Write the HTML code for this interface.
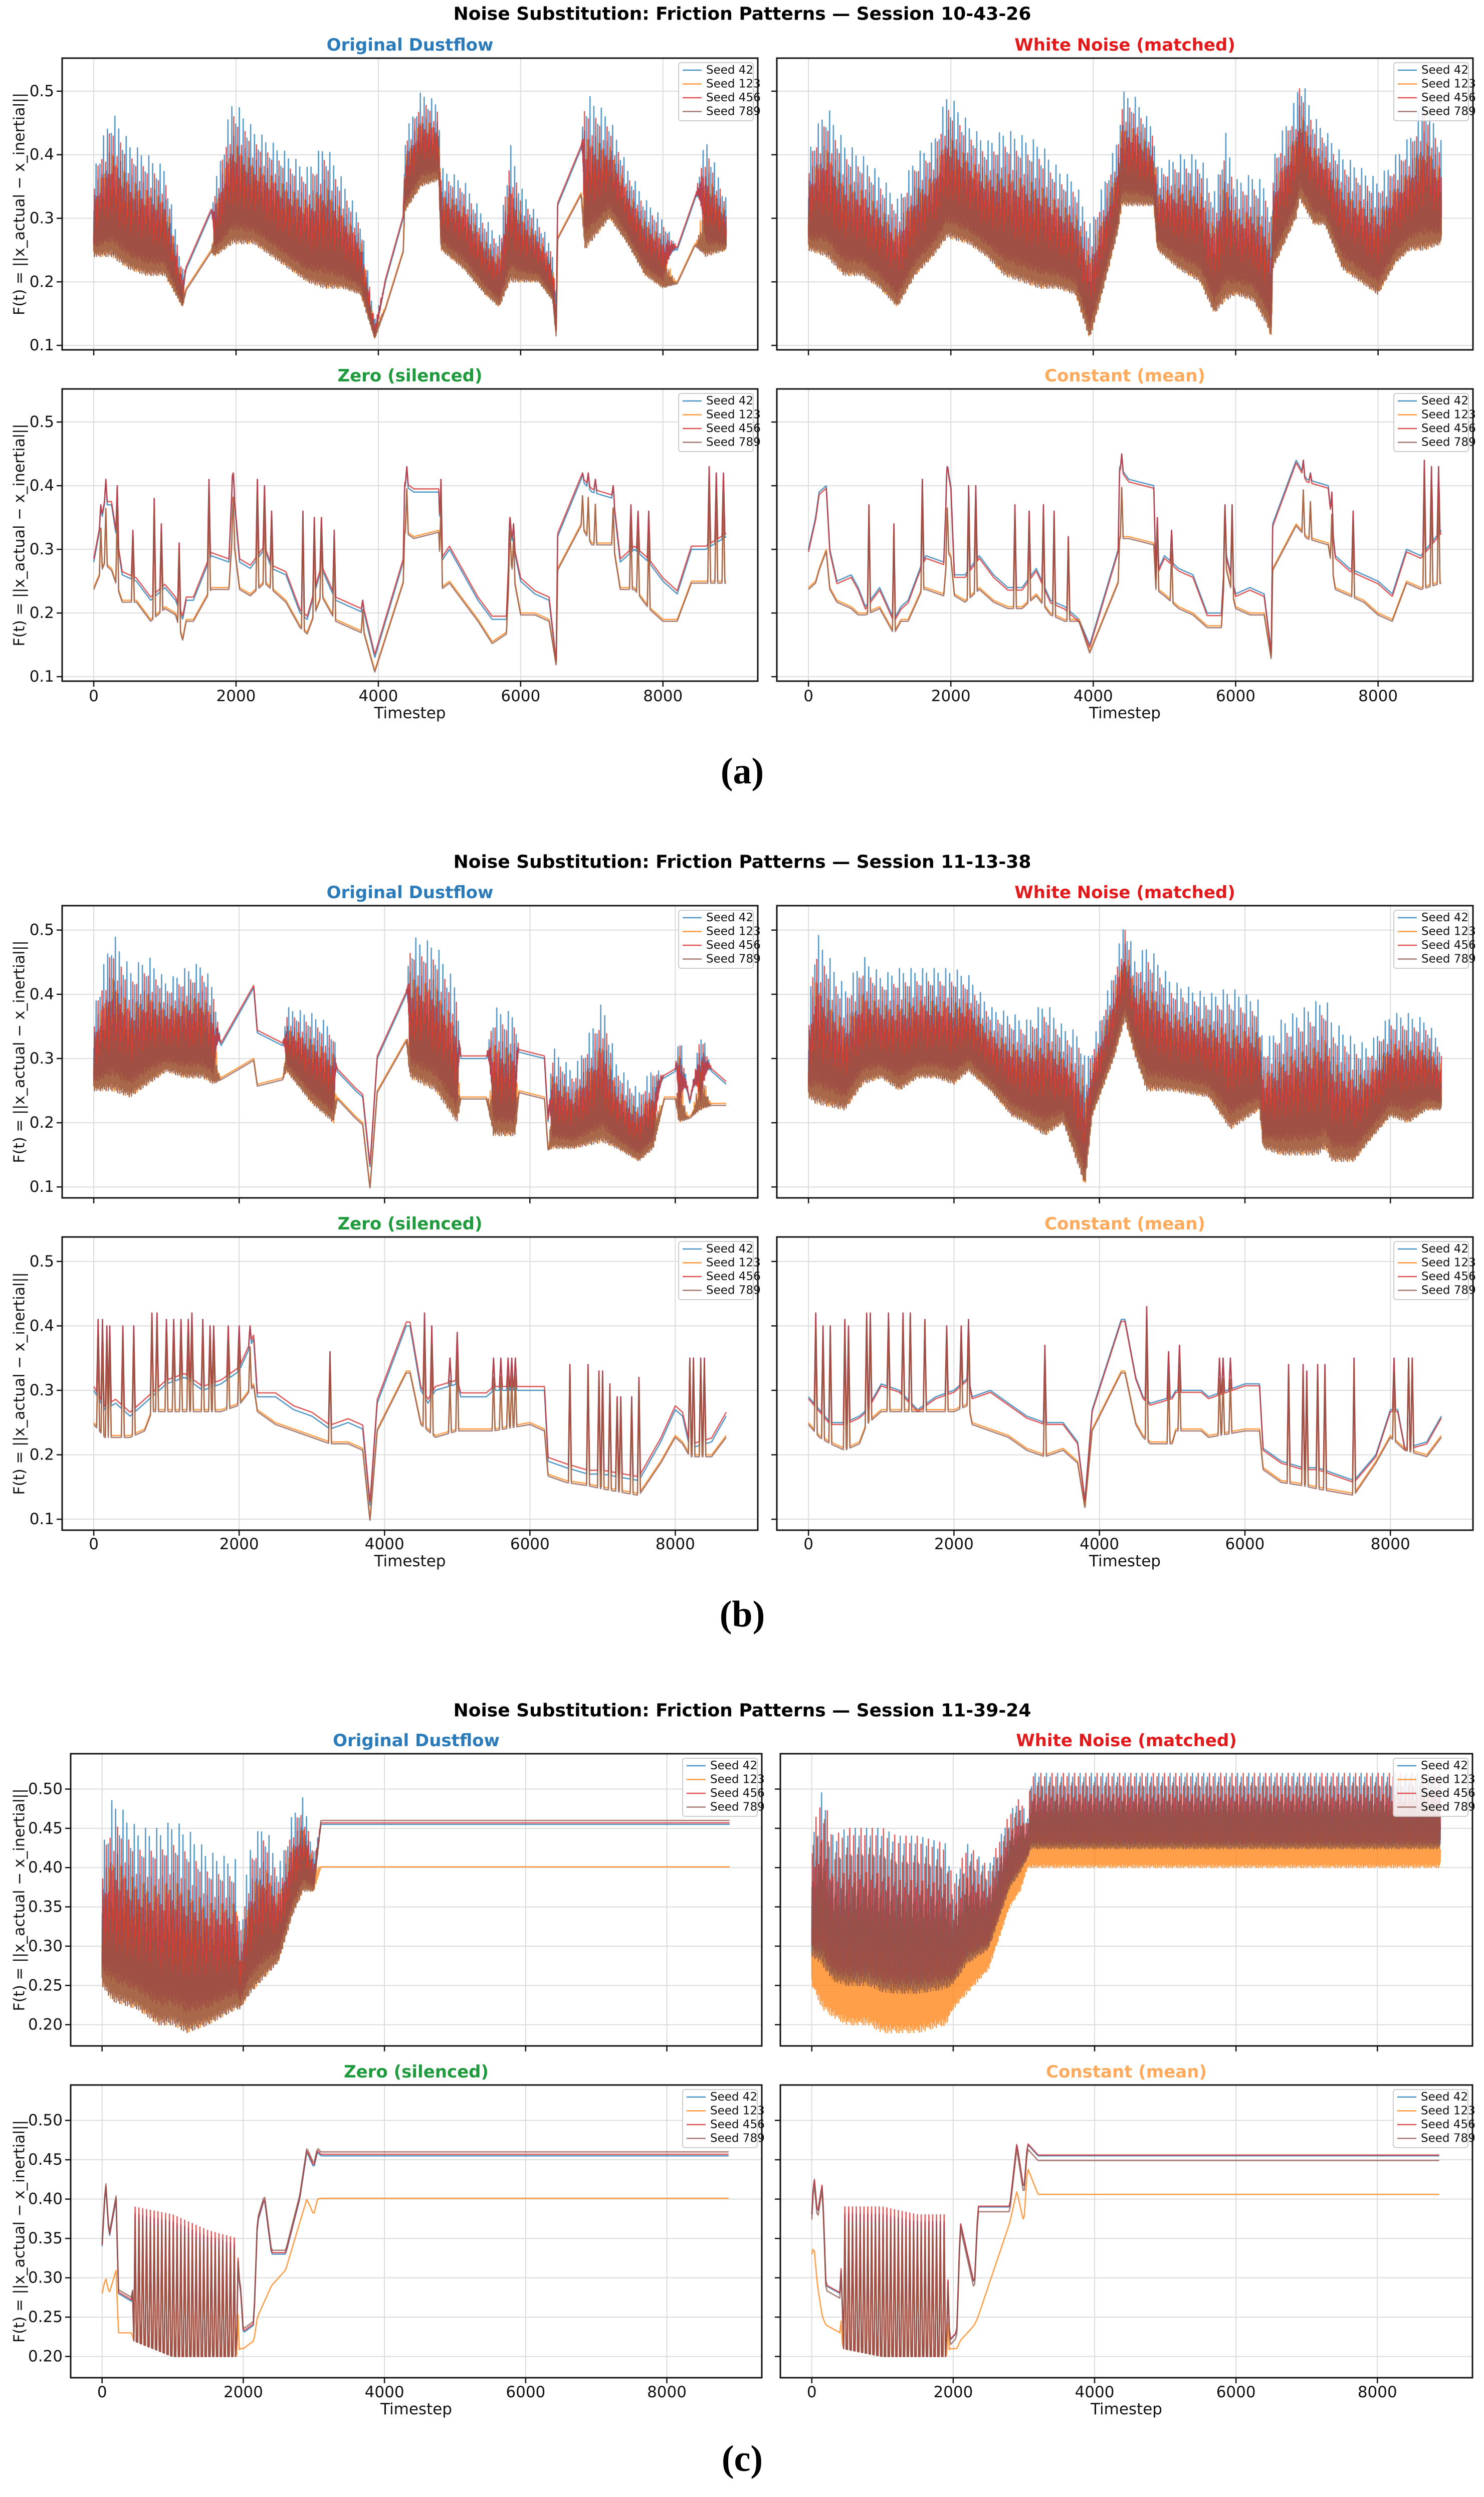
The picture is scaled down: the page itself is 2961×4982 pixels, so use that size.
<!DOCTYPE html>
<html><head><meta charset="utf-8"><title>Noise Substitution: Friction Patterns</title>
<style>
html,body{margin:0;padding:0;background:#fff;}
svg{display:block;font-family:"DejaVu Sans","Liberation Sans",sans-serif;}
</style></head>
<body>
<svg id="fig" xmlns="http://www.w3.org/2000/svg" width="2961" height="4982" viewBox="0 0 2961 4982">
<rect x="0" y="0" width="2961" height="4982" fill="#fff"/>
</svg>
<script>
// ---------- Shared data ----------
const seedNames = ['Seed 42','Seed 123','Seed 456','Seed 789'];
const seedColors = ['#1f77b4','#ff7f0e','#d62728','#8c564b'];
const xTickVals = [0,2000,4000,6000,8000];
const yTicksAB = [0.1,0.2,0.3,0.4,0.5];
const yTicksC = [0.20,0.25,0.30,0.35,0.40,0.45,0.50];
const sessionTitles = ['Noise Substitution: Friction Patterns \u2014 Session 10-43-26','Noise Substitution: Friction Patterns \u2014 Session 11-13-38','Noise Substitution: Friction Patterns \u2014 Session 11-39-24'];

// ---------- Session (a) ----------
const tOrigA = [0,250,500,750,1000,1250,1300,1650,1700,1950,2250,2500,2750,3000,3250,3500,3750,3950,4100,4350,4370,4600,4850,4880,5200,5500,5700,5850,6000,6250,6450,6500,6520,6850,6900,7250,7500,7750,8000,8200,8450,8600,8890];
const hiOrigA = [.38,.47,.42,.40,.38,.22,.22,.31,.35,.49,.44,.42,.40,.38,.42,.36,.30,.14,.20,.30,.43,.50,.48,.38,.36,.30,.27,.42,.35,.30,.25,.18,.32,.41,.50,.46,.38,.33,.30,.25,.33,.43,.33];
const loOrigA = [.24,.24,.22,.21,.21,.16,.19,.25,.24,.26,.26,.24,.22,.20,.19,.19,.18,.11,.16,.25,.31,.35,.36,.25,.22,.18,.16,.20,.20,.20,.17,.11,.27,.34,.25,.30,.26,.21,.19,.20,.26,.24,.25];
const nzOrigA = [1,1,1,1,1,1,0,0,1,1,1,1,1,1,1,1,1,1,0,0,1,1,1,1,1,1,1,1,1,1,1,1,0,0,1,1,1,1,1,0,0,1,1];

const tWhiteA = [0,250,500,750,1000,1250,1500,1750,1950,2250,2500,2750,3000,3250,3500,3750,3950,4100,4350,4400,4600,4850,4900,5200,5500,5700,5850,6000,6250,6450,6500,6520,6850,6900,7100,7250,7500,7750,8000,8250,8450,8650,8890];
const hiWhiteA = [.41,.48,.42,.40,.37,.33,.40,.42,.50,.45,.42,.44,.43,.42,.38,.36,.29,.34,.43,.50,.49,.44,.38,.40,.40,.34,.44,.36,.37,.35,.30,.40,.49,.53,.46,.44,.40,.38,.36,.40,.43,.50,.42];
const loWhiteA = [.25,.24,.21,.21,.19,.16,.21,.24,.27,.26,.24,.21,.20,.19,.19,.18,.11,.17,.28,.32,.32,.32,.25,.22,.20,.15,.17,.18,.17,.13,.11,.22,.30,.33,.29,.29,.22,.20,.18,.23,.25,.25,.26];

const tZeroA = [0,150,250,400,600,800,1000,1150,1250,1300,1400,1650,1900,1950,2050,2200,2400,2500,2700,2900,3000,3200,3400,3600,3800,3950,4350,4370,4500,4850,4880,5000,5200,5400,5600,5800,5850,6000,6200,6400,6500,6520,6850,7000,7300,7400,7600,7800,8000,8200,8400,8600,8890];
const upZeroA = [.28,.37,.37,.26,.25,.22,.24,.22,.19,.22,.22,.29,.28,.41,.28,.27,.30,.27,.26,.20,.19,.27,.22,.21,.20,.13,.28,.40,.39,.39,.28,.30,.26,.22,.19,.19,.33,.25,.23,.22,.12,.32,.41,.39,.38,.28,.30,.28,.25,.23,.30,.30,.32];
const dnZeroA = [.24,.28,.27,.22,.22,.19,.21,.20,.16,.19,.19,.24,.24,.33,.24,.23,.25,.24,.22,.18,.17,.23,.19,.18,.17,.11,.25,.33,.32,.33,.24,.25,.22,.19,.155,.17,.29,.20,.20,.19,.12,.27,.34,.31,.31,.24,.24,.21,.19,.19,.25,.25,.25];
const spikeTZeroA = [100,170,330,550,850,950,1200,1620,1960,2300,2400,2500,2940,3100,3200,3380,3780,4400,4880,5850,5900,6870,6950,7050,7300,7550,7650,7800,8650,8750,8850];
const spikeVZeroA = [.37,.41,.40,.33,.38,.34,.31,.41,.42,.41,.40,.36,.36,.35,.35,.33,.22,.43,.41,.35,.34,.42,.42,.41,.40,.37,.36,.36,.43,.42,.42];

const tConstA = [0,100,150,250,300,400,600,700,800,1000,1200,1300,1400,1600,1650,1900,1950,2000,2050,2200,2400,2600,2800,3000,3200,3400,3600,3800,3950,4350,4370,4500,4850,4880,5000,5200,5400,5600,5800,5850,6000,6200,6400,6500,6520,6850,7000,7300,7400,7600,7800,8000,8200,8400,8600,8890];
const upConstA = [.30,.35,.39,.40,.30,.25,.26,.24,.21,.24,.19,.21,.22,.28,.29,.28,.43,.40,.26,.26,.29,.26,.24,.24,.27,.22,.21,.19,.15,.30,.43,.41,.40,.26,.29,.27,.26,.20,.20,.30,.23,.24,.23,.14,.34,.44,.41,.40,.29,.27,.26,.25,.23,.30,.29,.33];
const dnConstA = [.24,.25,.27,.30,.24,.22,.21,.20,.20,.21,.17,.19,.19,.24,.24,.23,.30,.29,.23,.22,.24,.22,.21,.21,.23,.20,.19,.19,.14,.25,.32,.32,.31,.24,.23,.21,.20,.18,.18,.28,.21,.20,.20,.13,.27,.34,.32,.31,.24,.23,.22,.20,.19,.25,.24,.25];
const spikeTConstA = [850,1200,1600,1950,2250,2350,2900,3100,3300,3450,3650,4400,4900,5100,5850,5950,6950,7050,7350,7650,8650,8750,8850];
const spikeVConstA = [.37,.34,.41,.43,.40,.40,.37,.36,.37,.36,.32,.45,.35,.33,.37,.37,.44,.42,.39,.36,.44,.43,.43];

// ---------- Session (b) ----------
const tOrigB = [0,250,500,750,1000,1250,1500,1650,1750,2200,2250,2600,2650,3000,3300,3350,3600,3700,3800,3900,4300,4350,4700,5000,5050,5400,5500,5800,5850,6200,6250,6300,6600,7000,7200,7500,7700,7850,8000,8050,8200,8350,8500,8700];
const hiOrigB = [.38,.50,.44,.46,.42,.44,.45,.41,.32,.41,.34,.32,.38,.37,.35,.28,.25,.24,.13,.30,.40,.49,.48,.41,.30,.30,.38,.37,.31,.30,.20,.32,.28,.39,.29,.25,.29,.27,.28,.35,.23,.35,.28,.26];
const loOrigB = [.25,.25,.24,.26,.28,.27,.27,.26,.27,.30,.26,.27,.28,.23,.20,.24,.21,.20,.10,.25,.33,.27,.25,.20,.24,.24,.18,.18,.25,.24,.16,.16,.16,.17,.16,.14,.16,.24,.24,.20,.21,.22,.23,.23];
const nzOrigB = [1,1,1,1,1,1,1,1,0,0,0,0,1,1,1,0,0,0,0,0,0,1,1,1,0,0,1,1,0,0,0,1,1,1,1,1,1,0,0,1,0,1,0,0];

const tWhiteB = [0,100,500,750,1000,1250,1500,1750,2000,2200,2500,2800,3000,3250,3500,3750,3800,3900,4200,4350,4500,4650,5000,5500,5800,6200,6250,6500,7000,7100,7200,7500,7700,8000,8250,8500,8700];
const hiWhiteB = [.38,.50,.41,.46,.43,.44,.44,.44,.44,.43,.38,.37,.36,.39,.35,.34,.30,.32,.44,.52,.45,.48,.42,.40,.41,.39,.32,.36,.39,.40,.36,.33,.32,.37,.37,.36,.32];
const loWhiteB = [.24,.23,.22,.26,.27,.25,.27,.27,.26,.28,.25,.21,.20,.18,.20,.12,.10,.21,.30,.36,.30,.25,.25,.24,.19,.22,.16,.15,.15,.16,.14,.14,.17,.21,.20,.22,.22];

const tFlatB = [0,150,300,500,700,800,1000,1250,1500,1750,2000,2200,2250,2500,2750,3000,3250,3500,3700,3800,3900,4300,4350,4500,4600,4700,5000,5050,5400,5500,6000,6200,6250,6500,6800,7000,7500,7800,8000,8100,8200,8500,8700];
const upZeroB = [.30,.27,.28,.26,.28,.29,.31,.32,.30,.31,.33,.38,.29,.29,.27,.26,.24,.25,.24,.12,.28,.40,.40,.30,.28,.30,.31,.29,.29,.30,.30,.30,.19,.18,.17,.17,.16,.22,.27,.26,.21,.22,.26];
const dnZeroB = [.25,.23,.23,.23,.24,.27,.27,.27,.27,.27,.28,.31,.27,.25,.24,.23,.22,.22,.21,.10,.24,.33,.33,.25,.24,.23,.24,.24,.24,.24,.25,.24,.17,.16,.155,.15,.14,.19,.23,.22,.20,.20,.23];
const spikeTZeroB = [60,120,180,220,400,550,800,870,1000,1100,1200,1300,1350,1500,1600,1650,1850,2000,2150,3250,4550,4650,4900,5000,5500,5600,5700,5750,5800,6550,6800,6950,7000,7100,7200,7250,7400,7500,8200,8250,8350,8400];
const spikeVZeroB = [.41,.41,.40,.40,.40,.40,.42,.42,.41,.41,.41,.41,.42,.41,.40,.40,.40,.40,.40,.36,.42,.40,.35,.39,.35,.35,.35,.35,.35,.34,.34,.33,.33,.31,.29,.29,.29,.32,.35,.35,.35,.35];
const upConstB = [.29,.27,.25,.25,.26,.27,.31,.30,.27,.29,.30,.32,.29,.30,.28,.26,.25,.25,.22,.13,.27,.41,.41,.32,.29,.28,.29,.30,.30,.29,.31,.31,.21,.19,.18,.18,.16,.20,.27,.27,.21,.22,.26];
const dnConstB = [.25,.23,.22,.21,.22,.25,.27,.27,.27,.27,.27,.28,.25,.24,.23,.21,.20,.21,.19,.12,.24,.33,.33,.25,.23,.22,.22,.24,.24,.23,.24,.24,.18,.16,.155,.15,.14,.19,.23,.22,.21,.20,.23];
const spikeTConstB = [100,200,300,500,550,800,850,1100,1300,1400,1600,1900,2100,2200,3250,4650,4950,5100,5650,5700,5800,6600,6800,6850,7000,7100,7500,8050,8250,8300];
const spikeVConstB = [.42,.40,.40,.41,.40,.42,.42,.42,.42,.42,.41,.40,.40,.41,.37,.43,.36,.37,.35,.35,.35,.34,.34,.33,.34,.34,.35,.35,.35,.35];

// ---------- Session (c) ----------
const tOrigC = [0,150,500,800,1000,1200,1500,1900,1950,2100,2300,2500,2700,2850,3000,3100,8890];
const hiOrigC = [.43,.49,.45,.45,.46,.45,.42,.41,.32,.43,.46,.40,.47,.49,.42,.455,.455];
const loOrigC = [.25,.23,.22,.20,.20,.19,.20,.22,.22,.24,.26,.28,.34,.37,.37,.401,.401];
const nzOrigC = [1,1,1,1,1,1,1,1,1,1,1,1,1,1,1,0,0];

const tWhiteC = [0,100,150,300,500,800,1000,1200,1500,1900,2000,2200,2500,2800,2950,3050,3100,8890];
const hiWhiteC = [.44,.48,.50,.44,.45,.45,.45,.44,.44,.43,.38,.43,.40,.47,.49,.46,.52,.52];
const loWhiteC = [.25,.23,.22,.21,.20,.20,.19,.19,.19,.20,.22,.24,.27,.35,.37,.40,.40,.40];

const tZeroC = [0,50,100,200,230,420,450,1000,1500,1900,1950,2000,2150,2200,2300,2400,2600,2800,2900,3000,3050,3100,8890];
const hiZeroC = [.34,.42,.35,.40,.28,.27,.39,.38,.36,.35,.30,.23,.24,.37,.40,.33,.33,.40,.46,.44,.46,.455,.455];
const loZeroC = [.28,.30,.28,.31,.23,.23,.22,.20,.20,.20,.21,.21,.22,.25,.27,.29,.31,.37,.40,.38,.40,.401,.401];
const nzZeroC = [0,0,0,0,0,0,1,1,1,1,0,0,0,0,0,0,0,0,0,0,0,0,0];

const tConstC = [0,30,80,150,200,400,450,1000,1500,1900,1950,2050,2100,2300,2350,2800,2900,3000,3050,3200,8890];
const hiConstC = [.38,.43,.38,.42,.29,.28,.39,.39,.38,.38,.22,.23,.37,.29,.39,.39,.47,.41,.47,.455,.455];
const loConstC = [.33,.34,.29,.25,.24,.23,.21,.20,.20,.20,.21,.21,.22,.24,.25,.37,.41,.37,.44,.406,.406];
const nzConstC = [0,0,0,0,0,0,1,1,1,1,0,0,0,0,0,0,0,0,0,0,0];

// ---------- Rendering ----------
const NS = 'http://www.w3.org/2000/svg';
const svg = document.getElementById('fig');
function mk(tag, attrs, parent){
  const e = document.createElementNS(NS, tag);
  for (const k in attrs) e.setAttribute(k, attrs[k]);
  (parent || svg).appendChild(e);
  return e;
}
function interp(ts, vs, x){
  if (x <= ts[0]) return vs[0];
  if (x >= ts[ts.length-1]) return vs[vs.length-1];
  let i = 1; while (ts[i] < x) i++;
  const f = (x - ts[i-1]) / (ts[i] - ts[i-1]);
  return vs[i-1] + f * (vs[i] - vs[i-1]);
}
// irregular texture pattern (fixed, hand-written)
const PAT = [0,0.42,0.12,0.3,0.05,0.6,0.18,0.1,0.35,0.02,0.25,0.95,0.15,0.4,0.08,0.22,0.5,0,0.28,0.12,0.7,0.2,0.04,0.33,0.1,0.45,0.16,0.03,0.3,0.82,0.1,0.24,0.06,0.38,0.14,0.55,0.02,0.2,0.3,0.09,0.65,0.12,0.27,0,0.4,0.18,1,0.07,0.32,0.11,0.48,0.2,0.05];
const PAT2 = [0,0,1];

function drawPanel(p, idx){
  const [x0,y0,x1,y1] = p.box;
  const sx = v => x0 + (v - p.xlim[0]) / (p.xlim[1] - p.xlim[0]) * (x1 - x0);
  const sy = v => y1 - (v - p.ylim[0]) / (p.ylim[1] - p.ylim[0]) * (y1 - y0);
  const g = mk('g', {});
  
  

  xTickVals.forEach(v => {
    const l = mk('line', {x1:sx(v), x2:sx(v), y1:y0, y2:y1, stroke:'#dcdcdc', 'stroke-width':2}, g);
    
    
  });
  p.yticks.forEach(v => {
    const l = mk('line', {x1:x0, x2:x1, y1:sy(v), y2:sy(v), stroke:'#dcdcdc', 'stroke-width':2}, g);
    
    
  });

  const cid = 'clip' + idx;
  const cp = mk('clipPath', {id:cid}, g);
  mk('rect', {x:x0, y:y0, width:x1-x0, height:y1-y0}, cp);
  const sg = mk('g', {'clip-path':'url(#' + cid + ')'}, g);

  const tmax = p.t[p.t.length-1];
  const times = [];
  for (let t = 0; t <= tmax; t += p.step) times.push(t);
  const W = 20;
  if (p.spT) p.spT.forEach(ts => { times.push(ts - W, ts, ts + W); });
  times.sort((a,b) => a-b);

  for (let s = 0; s < 4; s++){
    let d = '';
    const pat = p.pat;
    for (let i = 0; i < times.length; i++){
      const t = times[i];
      const H = interp(p.t, p.hi, t), L = interp(p.t, p.lo, t);
      const N = p.nz ? interp(p.t, p.nz, t) : p.nzDef;
      const dd = H - L;
      const a = L + p.lf[s]*dd, b = H - p.tf[s]*dd;
      const f = pat[(i + s*p.phase) % pat.length];
      const vn = a + f*(b - a);
      let vc;
      if (s === 0) vc = H;
      else if (s === 2) vc = H + p.rOff;
      else if (s === 1) vc = L;
      else vc = p.brownUp ? H + p.bOff : L - 0.003;
      let v = N*vn + (1-N)*vc;
      if (p.spT){
        for (let k = 0; k < p.spT.length; k++){
          const dt = Math.abs(t - p.spT[k]);
          if (dt < W){
            const pk = p.spV[k] - ((s === 1 || s === 3) ? p.spDrop*dd : 0);
            const sv = pk - (dt / W) * (pk - v);
            if (sv > v) v = sv;
          }
        }
      }
      d += (i ? 'L' : 'M') + sx(t).toFixed(1) + ' ' + sy(v).toFixed(1);
    }
    const path = mk('path', {d:d, fill:'none', stroke:seedColors[s], 'stroke-width':2.6, 'stroke-opacity':0.75, 'stroke-linejoin':'round'}, sg);
    
    
  }

  const fr = mk('rect', {x:x0, y:y0, width:x1-x0, height:y1-y0, fill:'none', stroke:'#111', 'stroke-width':3}, g);
  
  

  p.yticks.forEach(v => {
    mk('line', {x1:x0-11, x2:x0, y1:sy(v), y2:sy(v), stroke:'#111', 'stroke-width':2.5}, g);
    if (p.yLabels){
      const tx = mk('text', {x:x0-16, y:sy(v), 'text-anchor':'end', 'dominant-baseline':'central', 'font-size':31, fill:'#111'}, g);
      tx.textContent = v.toFixed(p.yDec);
      
      
    }
  });
  xTickVals.forEach(v => {
    mk('line', {x1:sx(v), x2:sx(v), y1:y1, y2:y1+11, stroke:'#111', 'stroke-width':2.5}, g);
    if (p.xLabels){
      const tx = mk('text', {x:sx(v), y:p.xLabY, 'text-anchor':'middle', 'dominant-baseline':'central', 'font-size':31, fill:'#111'}, g);
      tx.textContent = String(v);
      
      
    }
  });
  if (p.xLabels){
    const xl = mk('text', {x:(x0+x1)/2, y:p.xLabY+34, 'text-anchor':'middle', 'dominant-baseline':'central', 'font-size':31, fill:'#111'}, g);
    xl.textContent = 'Timestep';
    
    
  }
  if (p.yLabels){
    const yc = (y0+y1)/2;
    const yl = mk('text', {x:39, y:yc, transform:'rotate(-90 39 ' + yc + ')', 'text-anchor':'middle', 'dominant-baseline':'central', 'font-size':30, fill:'#111'}, g);
    yl.textContent = 'F(t) = ||x_actual \u2212 x_inertial||';
    
    
  }
  const st = mk('text', {x:(x0+x1)/2, y:y0-26, 'text-anchor':'middle', 'dominant-baseline':'central', 'font-size':34, 'font-weight':'bold', fill:p.titleColor}, g);
  st.textContent = p.title;
  
  

  const lg = mk('g', {}, g);
  
  
  mk('rect', {x:x1-158, y:y0+9, width:149, height:116, rx:5, fill:'#fff', 'fill-opacity':0.85, stroke:'#ccc', 'stroke-width':2}, lg);
  seedNames.forEach((n, s) => {
    const ry = y0 + 24 + s*27.5;
    mk('line', {x1:x1-150, x2:x1-112, y1:ry, y2:ry, stroke:seedColors[s], 'stroke-width':2.6, 'stroke-opacity':0.8}, lg);
    const lt = mk('text', {x:x1-103, y:ry, 'dominant-baseline':'central', 'font-size':23, fill:'#111'}, lg);
    lt.textContent = n;
    
    
  });
}

const DLF = [0.15,0,0.1,0], DTF = [0,0.3,0.12,0.4];
const ZLF = [0,0,0,0], ZTF = [0.05,0.15,0,0.1];
const titleInfo = [
  ['Original Dustflow','#2b7bba'],['White Noise (matched)','#e31a1c'],
  ['Zero (silenced)','#1f9a3c'],['Constant (mean)','#fdaa5c']];

const sections = [
  {top:[116,698], bot:[776,1359], L:[124,1512], R:[1550,2939], xlim:[-444,9333], ylim:[0.093,0.552], yt:yTicksAB, yDec:1, titleY:28, xLabY:1389, figY:1539, fig:'(a)',
   panels:[
    {t:tOrigA, hi:hiOrigA, lo:loOrigA, nz:nzOrigA, nzDef:1, rOff:0.004},
    {t:tWhiteA, hi:hiWhiteA, lo:loWhiteA, nzDef:1, rOff:0.004},
    {t:tZeroA, hi:upZeroA, lo:dnZeroA, nzDef:0, rOff:0.005, spT:spikeTZeroA, spV:spikeVZeroA},
    {t:tConstA, hi:upConstA, lo:dnConstA, nzDef:0, rOff:-0.004, spT:spikeTConstA, spV:spikeVConstA}]},
  {top:[1807,2390], bot:[2468,3053], L:[124,1512], R:[1550,2939], xlim:[-435,9135], ylim:[0.083,0.538], yt:yTicksAB, yDec:1, titleY:1720, xLabY:3081, figY:3221, fig:'(b)',
   panels:[
    {t:tOrigB, hi:hiOrigB, lo:loOrigB, nz:nzOrigB, nzDef:1, rOff:0.004},
    {t:tWhiteB, hi:hiWhiteB, lo:loWhiteB, nzDef:1, rOff:0.004},
    {t:tFlatB, hi:upZeroB, lo:dnZeroB, nzDef:0, rOff:0.006, spT:spikeTZeroB, spV:spikeVZeroB},
    {t:tFlatB, hi:upConstB, lo:dnConstB, nzDef:0, rOff:-0.003, spT:spikeTConstB, spV:spikeVConstB}]},
  {top:[3499,4082], bot:[4160,4744], L:[141,1520], R:[1557,2938], xlim:[-445,9345], ylim:[0.173,0.545], yt:yTicksC, yDec:2, titleY:3413, xLabY:4773, figY:4906, fig:'(c)',
   panels:[
    {t:tOrigC, hi:hiOrigC, lo:loOrigC, nz:nzOrigC, nzDef:1, rOff:0.002, brownUp:true, bOff:0.005},
    {t:tWhiteC, hi:hiWhiteC, lo:loWhiteC, nzDef:1, rOff:0.002, brownUp:true, bOff:0.003, lf:[0.2,0,0.25,0.2], tf:[0,0.45,0,0.1]},
    {t:tZeroC, hi:hiZeroC, lo:loZeroC, nz:nzZeroC, nzDef:0, rOff:0.002, brownUp:true, bOff:0.005, step:18, pat:PAT2, phase:0, lf:ZLF, tf:ZTF},
    {t:tConstC, hi:hiConstC, lo:loConstC, nz:nzConstC, nzDef:0, rOff:0.001, brownUp:true, bOff:-0.006, step:18, pat:PAT2, phase:0, lf:ZLF, tf:ZTF}]}
];

let pi = 0;
sections.forEach((S, si) => {
  const mt = mk('text', {x:1481, y:S.titleY, 'text-anchor':'middle', 'dominant-baseline':'central', 'font-size':36, 'font-weight':'bold', fill:'#000'});
  mt.textContent = sessionTitles[si];
  
  
  S.panels.forEach((q, k) => {
    const col = k % 2, row = Math.floor(k / 2);
    const xs = col ? S.R : S.L, ys = row ? S.bot : S.top;
    const p = Object.assign({
      box:[xs[0], ys[0], xs[1], ys[1]], xlim:S.xlim, ylim:S.ylim, yticks:S.yt, yDec:S.yDec,
      yLabels: col === 0, xLabels: row === 1, xLabY:S.xLabY,
      title:titleInfo[k][0], titleColor:titleInfo[k][1],
      step:3, pat:PAT, phase:13, lf:DLF, tf:DTF, spDrop:0.5, bOff:0,
      name:'panel-' + S.fig.replace(/[()]/g,'') + '-' + titleInfo[k][0].toLowerCase().replace(/[^a-z]+/g,'-').replace(/-$/,'')
    }, q);
    drawPanel(p, pi++);
  });
  const fl = mk('text', {x:1481, y:S.figY, 'text-anchor':'middle', 'dominant-baseline':'central', 'font-size':74, 'font-weight':'600', 'font-family':'"Liberation Serif", serif', fill:'#000'});
  fl.textContent = S.fig;
  
  
});
</script>
</body></html>
